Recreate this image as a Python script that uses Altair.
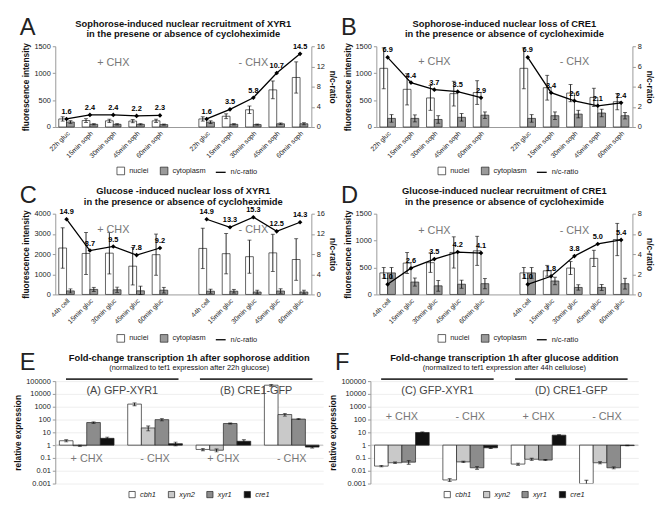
import json
import altair as alt
import pandas as pd

FONT = "Liberation Sans"

# ---------------- data ----------------
cats_soph = ["22h gluc", "15min soph", "30min soph", "45min soph", "60min soph"]
cats_gluc = ["44h cell", "15min gluc", "30min gluc", "45min gluc", "60min gluc"]

# Panel A: XYR1, sophorose
A_nuc_plus = [150, 120, 115, 110, 115]
A_nuc_plus_err = [40, 35, 30, 30, 30]
A_cyt_plus = [92, 50, 50, 50, 45]
A_cyt_plus_err = [25, 12, 12, 12, 10]
A_ratio_plus = [1.6, 2.4, 2.4, 2.2, 2.3]
A_nuc_minus = [150, 200, 320, 690, 920]
A_nuc_minus_err = [40, 45, 70, 165, 290]
A_cyt_minus = [90, 50, 45, 60, 60]
A_cyt_minus_err = [25, 12, 10, 15, 20]
A_ratio_minus = [1.6, 3.5, 5.8, 10.7, 14.5]

# Panel B: CRE1, sophorose
B_nuc_plus = [1090, 700, 540, 620, 640]
B_nuc_plus_err = [380, 290, 230, 230, 220]
B_cyt_plus = [160, 160, 140, 180, 220]
B_cyt_plus_err = [70, 65, 70, 70, 60]
B_ratio_plus = [6.9, 4.4, 3.7, 3.5, 2.9]
B_nuc_minus = [1090, 730, 630, 550, 470]
B_nuc_minus_err = [380, 230, 160, 170, 150]
B_cyt_minus = [160, 210, 240, 260, 210]
B_cyt_minus_err = [70, 70, 70, 70, 60]
B_ratio_minus = [6.9, 3.4, 2.6, 2.1, 2.4]

# Panel C: XYR1, glucose
C_nuc_plus = [2300, 2030, 2045, 1400, 1970]
C_nuc_plus_err = [1000, 1040, 1030, 930, 1020]
C_cyt_plus = [175, 250, 230, 180, 210]
C_cyt_plus_err = [100, 100, 130, 230, 140]
C_ratio_plus = [14.9, 8.7, 9.5, 7.8, 9.2]
C_nuc_minus = [2280, 2020, 1870, 2060, 1730]
C_nuc_minus_err = [1000, 1000, 820, 920, 1030]
C_cyt_minus = [160, 160, 120, 170, 120]
C_cyt_minus_err = [100, 90, 90, 110, 90]
C_ratio_minus = [14.9, 13.3, 15.3, 12.5, 14.3]

# Panel D: CRE1, glucose
D_nuc_plus = [400, 583, 590, 780, 810]
D_nuc_plus_err = [100, 195, 180, 290, 270]
D_cyt_plus = [400, 230, 160, 190, 200]
D_cyt_plus_err = [100, 75, 100, 75, 95]
D_ratio_plus = [1.0, 2.6, 3.5, 4.2, 4.1]
D_nuc_minus = [400, 440, 490, 670, 1020]
D_nuc_minus_err = [100, 100, 120, 150, 300]
D_cyt_minus = [400, 250, 130, 130, 200]
D_cyt_minus_err = [100, 70, 50, 55, 100]
D_ratio_minus = [1.0, 1.8, 3.8, 5.0, 5.4]

# Panels E/F: relative expression (genes: cbh1, xyn2, xyr1, cre1)
genes = ["cbh1", "xyn2", "xyr1", "cre1"]
chx_groups = ["+ CHX", "- CHX", "+ CHX", "- CHX"]
E_constructs = ["(A) GFP-XYR1", "(B) CRE1-GFP"]
E_vals = [[2.2, 0.9, 58, 3.4], [1600, 22, 98, 1.3], [0.46, 0.4, 49, 2.0], [48000, 245, 108, 0.7]]
E_errs = [[0.4, 0.1, 8, 0.8], [400, 9, 20, 0.4], [0.1, 0.1, 4, 0.6], [8000, 60, 10, 0.1]]
F_constructs = ["(C) GFP-XYR1", "(D) CRE1-GFP"]
F_vals = [[0.023, 0.042, 0.047, 9.7], [0.0019, 0.049, 0.017, 0.62], [0.033, 0.079, 0.068, 6.0], [0.001, 0.042, 0.017, 0.92]]
F_errs = [[0.003, 0.006, 0.015, 1.0], [0.0005, 0.006, 0.004, 0.08], [0.006, 0.015, 0.007, 0.5], [0.0008, 0.008, 0.003, 0.05]]

# ---------------- builders ----------------
W_F, H_F = 260, 82
W_E, H_E = 272, 104
NSLOT_F = 32          # 11 categories x (nuclei, cytoplasm, gap) minus trailing gap
PAD_F = 0.45
NSLOT_E = 19          # 4 groups x (4 genes + gap) minus trailing gap
PAD_E = 0.3
LBL = "#222"


def deco_layer(letter, lines, width, y0, sizes, weights):
    """Panel letter and title lines as text marks (pixel anchored)."""
    parts = [alt.Chart(pd.DataFrame({"t": [letter]})).mark_text(
        fontSize=24, align="left", baseline="top", color="#222", font=FONT
    ).encode(text="t:N", x=alt.value(-36), y=alt.value(y0 - 2))]
    for i, (ln, sz, wt) in enumerate(zip(lines, sizes, weights)):
        parts.append(alt.Chart(pd.DataFrame({"t": [ln]})).mark_text(
            fontSize=sz, fontWeight=wt, align="center", baseline="top", color="#111", font=FONT
        ).encode(text="t:N", x=alt.value(width / 2), y=alt.value(y0 + i * 11)))
    return alt.layer(*parts)


def fluor_panel(letter, title, cats, np_, npe, cp, cpe, rp, nm, nme, cm, cme, rm,
                ymax, ystep, rmax, rstep, chx_y):
    rows, rrows = [], []
    for cond, off, nuc, nuce, cyt, cyte, rat in [("+", 0, np_, npe, cp, cpe, rp),
                                                  ("-", 6, nm, nme, cm, cme, rm)]:
        for i in range(5):
            p = i + off
            rows.append(dict(slot=3 * p, cond=cond, series="nuclei", val=nuc[i],
                             lo=max(nuc[i] - nuce[i], 0), hi=nuc[i] + nuce[i]))
            rows.append(dict(slot=3 * p + 1, cond=cond, series="cytoplasm", val=cyt[i],
                             lo=max(cyt[i] - cyte[i], 0), hi=cyt[i] + cyte[i]))
            rrows.append(dict(slot=3 * p, cond=cond, ratio=rat[i], txt=f"{rat[i]:.1f}",
                              lab="n/c-ratio"))
    df = pd.DataFrame(rows)
    rdf = pd.DataFrame(rrows)
    chx = pd.DataFrame({"slot": [6, 24], "t": ["+ CHX", "- CHX"], "y": [chx_y, chx_y]})

    slot_labels = [""] * NSLOT_F
    for i in range(5):
        slot_labels[3 * i] = cats[i]
        slot_labels[3 * (i + 6)] = cats[i]
    bw = W_F / (NSLOT_F + 2 * PAD_F)
    xs = alt.Scale(type="band", domain=list(range(NSLOT_F)), paddingInner=0, paddingOuter=PAD_F)
    xax = alt.Axis(title=None, labelExpr=json.dumps(slot_labels) + "[datum.value]",
                   values=[3 * p for p in range(11) if p != 5],
                   labelAngle=-45, labelFontSize=6.8, ticks=False, domainColor="#999",
                   labelPadding=3, labelOffset=bw / 2, labelOverlap=False, labelColor=LBL)
    X = alt.X("slot:O", scale=xs, axis=xax)
    XC = alt.X("slot:O", scale=xs, axis=xax, bandPosition=1)
    ys = alt.Scale(domain=[0, ymax], nice=False)
    yax = alt.Axis(title="fluorescence intensity", values=list(range(0, ymax + 1, ystep)),
                   format="d", grid=False, labelFontSize=7.5, titleFontSize=8.5,
                   titleFontWeight="bold", domainColor="#999", tickColor="#999", tickSize=3,
                   titlePadding=3, labelOverlap=False, labelColor=LBL)

    base = alt.Chart(df)
    bars = base.mark_bar(stroke="#222", strokeWidth=0.7).encode(
        x=X, y=alt.Y("val:Q", scale=ys, axis=yax),
        fill=alt.Fill("series:N", scale=alt.Scale(domain=["nuclei", "cytoplasm"],
                                                  range=["white", "#9a9a9a"]),
                      legend=alt.Legend(orient="none", legendX=W_F / 2 - 68, legendY=H_F + 40,
                                        title=None, direction="horizontal",
                                        symbolType="square", symbolStrokeColor="#222",
                                        symbolStrokeWidth=0.7, labelFontSize=7.5,
                                        labelColor=LBL, symbolSize=60)))
    err = base.mark_rule(color="#111", strokeWidth=0.9).encode(
        x=X, y=alt.Y("lo:Q", scale=ys, axis=yax), y2="hi:Q")
    caps = base.transform_fold(["lo", "hi"], as_=["k", "cap"]).mark_tick(
        color="#111", thickness=0.9, size=4).encode(
        x=X, y=alt.Y("cap:Q", scale=ys, axis=yax))
    chx_t = alt.Chart(chx).mark_text(fontSize=11, color="#777", font=FONT).encode(
        x=XC, y=alt.Y("y:Q", scale=ys, axis=yax), text="t:N")
    left = alt.layer(bars, err, caps, chx_t,
                     deco_layer(letter, title, W_F, -28, [9.5, 9.5], ["bold", "bold"]))

    rs = alt.Scale(domain=[0, rmax], nice=False)
    rax = alt.Axis(orient="right", title="n/c-ratio", values=list(range(0, rmax + 1, rstep)),
                   grid=False, labelFontSize=7.5, titleFontSize=8.5, titleFontWeight="bold",
                   domainColor="#999", tickColor="#999", tickSize=3, titlePadding=3,
                   labelOverlap=False, labelColor=LBL)
    rbase = alt.Chart(rdf)
    line = rbase.mark_line(strokeWidth=1.3).encode(
        x=XC, y=alt.Y("ratio:Q", scale=rs, axis=rax), detail="cond:N",
        stroke=alt.Stroke("lab:N", scale=alt.Scale(domain=["n/c-ratio"], range=["black"]),
                          legend=alt.Legend(orient="none", legendX=W_F / 2 + 32,
                                            legendY=H_F + 40, title=None, labelFontSize=7.5,
                                            labelColor=LBL, symbolType="stroke",
                                            symbolStrokeWidth=1.3)))
    pts = rbase.mark_point(filled=True, shape="diamond", size=22, color="black", opacity=1).encode(
        x=XC, y=alt.Y("ratio:Q", scale=rs, axis=rax))
    labs = rbase.mark_text(dy=-7, fontSize=7.5, fontWeight="bold", font=FONT,
                           color="black").encode(
        x=XC, y=alt.Y("ratio:Q", scale=rs, axis=rax), text="txt:N")
    right = alt.layer(line, pts, labs)

    return alt.layer(left, right).resolve_scale(y="independent").properties(
        width=W_F, height=H_F)


def expr_panel(letter, title, subtitle, constructs, vals, errs, chx_y):
    rows = []
    for g in range(4):
        for k, gene in enumerate(genes):
            v = vals[g][k]
            e = errs[g][k]
            if v >= 1:
                lo, hi = v - e, v + e
            else:
                lo, hi = max(v - e, 0.0008), v + e
            rows.append(dict(slot=5 * g + k, gene=gene, val=v, base=1.0, lo=lo, hi=hi))
    df = pd.DataFrame(rows)
    chx = pd.DataFrame({"slot": [5 * g + 1 for g in range(4)], "t": chx_groups,
                        "y": [chx_y] * 4})
    hdr = pd.DataFrame({"c": constructs})

    xs = alt.Scale(type="band", domain=list(range(NSLOT_E)), paddingInner=0, paddingOuter=PAD_E)
    X = alt.X("slot:O", scale=xs, axis=None)
    XC = alt.X("slot:O", scale=xs, axis=None, bandPosition=1)
    ys = alt.Scale(type="log", domain=[0.001, 100000], nice=False)
    ticks = [0.001, 0.01, 0.1, 1, 10, 100, 1000, 10000, 100000]
    yax = alt.Axis(title="relative expression", values=ticks, format="~g", grid=True,
                   gridColor="#eeeeee", labelFontSize=7.5, titleFontSize=8.5,
                   titleFontWeight="bold", domainColor="#999", tickColor="#999", tickSize=3,
                   titlePadding=3, labelOverlap=False, labelColor=LBL)

    base = alt.Chart(df)
    bars = base.mark_bar(stroke="#222", strokeWidth=0.7, clip=True).encode(
        x=X, y=alt.Y("val:Q", scale=ys, axis=yax), y2="base:Q",
        fill=alt.Fill("gene:N", scale=alt.Scale(domain=genes,
                                                range=["white", "#c9c9c9", "#8c8c8c", "#111111"]),
                      legend=alt.Legend(orient="none", legendX=W_E / 2 - 62, legendY=H_E + 7,
                                        title=None, direction="horizontal",
                                        symbolType="square", symbolStrokeColor="#222",
                                        symbolStrokeWidth=0.7, labelFontSize=7.5,
                                        labelColor=LBL, labelFontStyle="italic",
                                        symbolSize=40)))
    err = base.mark_rule(color="#111", strokeWidth=0.9, clip=True).encode(
        x=X, y=alt.Y("lo:Q", scale=ys, axis=yax), y2="hi:Q")
    caps = base.transform_fold(["lo", "hi"], as_=["k", "cap"]).mark_tick(
        color="#111", thickness=0.9, size=4, clip=True).encode(
        x=X, y=alt.Y("cap:Q", scale=ys, axis=yax))
    one = alt.Chart(pd.DataFrame({"v": [1.0]})).mark_rule(color="#bbbbbb", strokeWidth=1).encode(
        y=alt.Y("v:Q", scale=ys, axis=yax))
    chx_t = alt.Chart(chx).mark_text(fontSize=11, color="#777", font=FONT).encode(
        x=XC, y=alt.Y("y:Q", scale=ys, axis=yax), text="t:N")
    main = alt.layer(one, bars, err, caps, chx_t,
                     deco_layer(letter, [title, subtitle], W_E, -28, [9.5, 7.5],
                                ["bold", "normal"]))

    hx = alt.X("c:N", scale=alt.Scale(domain=constructs, paddingInner=0.16, paddingOuter=0.08),
               axis=None)
    hbar = alt.Chart(hdr).mark_bar(color="#333").encode(x=hx, y=alt.value(-3), y2=alt.value(-1))
    htxt = alt.Chart(hdr).mark_text(fontSize=11, color="#444", font=FONT, baseline="top").encode(
        x=hx, y=alt.value(4), text="c:N")
    header = alt.layer(hbar, htxt)

    return alt.layer(main, header).resolve_scale(x="independent").properties(
        width=W_E, height=H_E)


pA = fluor_panel("A", ["Sophorose-induced nuclear recruitment of XYR1",
                       "in the presene or absence of cycloheximide"], cats_soph,
                 A_nuc_plus, A_nuc_plus_err, A_cyt_plus, A_cyt_plus_err, A_ratio_plus,
                 A_nuc_minus, A_nuc_minus_err, A_cyt_minus, A_cyt_minus_err, A_ratio_minus,
                 1500, 500, 16, 4, 1180)
pB = fluor_panel("B", ["Sophorose-induced nuclear loss of CRE1",
                       "in the presence or absence of cycloheximide"], cats_soph,
                 B_nuc_plus, B_nuc_plus_err, B_cyt_plus, B_cyt_plus_err, B_ratio_plus,
                 B_nuc_minus, B_nuc_minus_err, B_cyt_minus, B_cyt_minus_err, B_ratio_minus,
                 1500, 500, 8, 2, 1200)
pC = fluor_panel("C", ["Glucose -induced nuclear loss of XYR1",
                       "in the presence or absence of cycloheximide"], cats_gluc,
                 C_nuc_plus, C_nuc_plus_err, C_cyt_plus, C_cyt_plus_err, C_ratio_plus,
                 C_nuc_minus, C_nuc_minus_err, C_cyt_minus, C_cyt_minus_err, C_ratio_minus,
                 4000, 1000, 16, 4, 3200)
pD = fluor_panel("D", ["Glucose-induced nuclear recruitment of CRE1",
                       "in the presence or absence of cycloheximide"], cats_gluc,
                 D_nuc_plus, D_nuc_plus_err, D_cyt_plus, D_cyt_plus_err, D_ratio_plus,
                 D_nuc_minus, D_nuc_minus_err, D_cyt_minus, D_cyt_minus_err, D_ratio_minus,
                 1500, 500, 8, 2, 1180)
pE = expr_panel("E", "Fold-change transcription 1h after sophorose addition",
                "(normalized to tef1 expression after 22h glucose)", E_constructs,
                E_vals, E_errs, 0.08)
pF = expr_panel("F", "Fold-change transcription 1h after glucose addition",
                "(normalized to tef1 expression after 44h cellulose)", F_constructs,
                F_vals, F_errs, 170)

res = dict(fill="independent", stroke="independent")
row1 = alt.hconcat(pA, pB, spacing=4).resolve_scale(**res)
row2 = alt.hconcat(pC, pD, spacing=4).resolve_scale(**res)
row3 = alt.hconcat(pE, pF, spacing=4).resolve_scale(**res)
chart = alt.vconcat(row1, row2, row3, spacing=8).resolve_scale(**res).configure(
    font=FONT).configure_view(stroke=None).configure_axis(labelColor=LBL, titleColor="#111")

chart.save("out.html", embed_options={"renderer": "svg", "actions": False})
